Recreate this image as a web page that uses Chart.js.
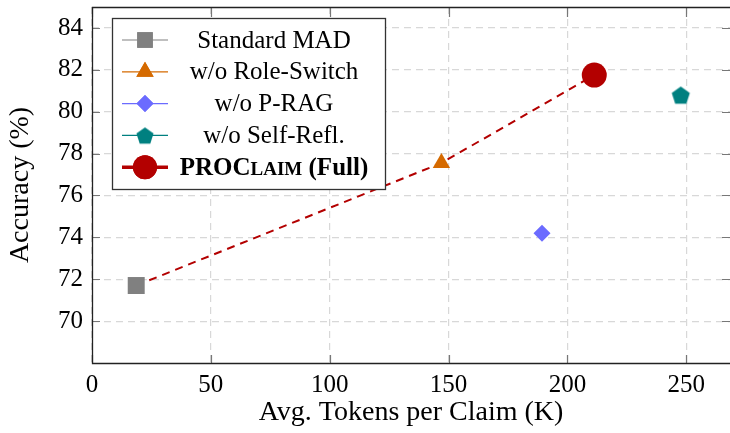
<!DOCTYPE html>
<html lang="en">
<head>
<meta charset="UTF-8">
<title>Accuracy vs Tokens</title>
<script src="https://cdn.jsdelivr.net/npm/chart.js"></script>
<style>
  html, body { margin: 0; padding: 0; background: #fff; }
  #wrap { width: 730px; height: 433px; }
</style>
</head>
<body>
<div id="wrap"><canvas id="chart" width="730" height="433"></canvas></div>
<script>
// data
const methods = ['Standard MAD', 'w/o Role-Switch', 'w/o P-RAG', 'w/o Self-Refl.', 'PROClaim (Full)'];
const tokensK = [18.6, 147.0, 189.3, 247.7, 211.3];
const accuracy = [71.7, 77.55, 74.2, 80.8, 81.75];
const frontier = [0, 1, 4]; // indices joined by the dashed line
const xTicks = [0, 50, 100, 150, 200, 250];
const yTicks = [70, 72, 74, 76, 78, 80, 82, 84];

const colors = ['#808080', '#d56a00', '#6b6bff', '#008080', '#b30000'];
const FONT = '"Liberation Serif", "DejaVu Serif", serif';

// pentagon marker (no built-in pointStyle for it)
function pentagon(r, color) {
  const c = document.createElement('canvas');
  c.width = c.height = Math.ceil(2 * r + 2);
  const g = c.getContext('2d');
  const cx = c.width / 2, cy = c.height / 2 + r * 0.1;
  g.beginPath();
  for (let i = 0; i < 5; i++) {
    const a = -Math.PI / 2 + i * 2 * Math.PI / 5;
    const px = cx + r * Math.cos(a), py = cy + r * Math.sin(a);
    if (i === 0) g.moveTo(px, py); else g.lineTo(px, py);
  }
  g.closePath();
  g.fillStyle = color;
  g.fill();
  return c;
}

const styles = ['rect', 'triangle', 'rectRot', pentagon(9.5, colors[3]), 'circle'];
const radii = [12, 10, 8.5, 9.5, 12.5];
const legStyles = ['rect', 'triangle', 'rectRot', pentagon(9, colors[3]), 'circle'];
const legRadii = [11, 10, 8.5, 9, 12];

const datasets = methods.map((m, i) => ({
  label: m,
  data: [{ x: tokensK[i], y: accuracy[i] }],
  backgroundColor: colors[i],
  borderColor: colors[i],
  pointStyle: styles[i],
  pointRadius: radii[i],
  pointHoverRadius: radii[i],
  borderWidth: 0,
  showLine: false,
  order: 1
}));

datasets.push({
  label: 'frontier',
  data: frontier.map(i => ({ x: tokensK[i], y: accuracy[i] })),
  borderColor: colors[4],
  borderWidth: 2,
  borderDash: [8, 6],
  pointRadius: 0,
  showLine: true,
  fill: false,
  order: 10
});

// frame + inner tick marks
const framePlugin = {
  id: 'frame',
  afterDatasetsDraw(chart) {
    const { ctx, chartArea: a, scales } = chart;
    ctx.save();
    ctx.strokeStyle = '#777';
    ctx.lineWidth = 1.2;
    ctx.beginPath();
    yTicks.forEach(v => {
      const y = Math.round(scales.y.getPixelForValue(v)) + 0.5;
      ctx.moveTo(a.left, y); ctx.lineTo(a.left + 8, y);
      ctx.moveTo(a.right, y); ctx.lineTo(a.right - 8, y);
    });
    xTicks.forEach(v => {
      const x = Math.round(scales.x.getPixelForValue(v)) + 0.5;
      ctx.moveTo(x, a.bottom); ctx.lineTo(x, a.bottom - 8);
      ctx.moveTo(x, a.top); ctx.lineTo(x, a.top + 10);
    });
    ctx.stroke();
    ctx.strokeStyle = '#222';
    ctx.lineWidth = 1.3;
    ctx.beginPath();
    ctx.moveTo(a.right + 2, a.top + 0.5);
    ctx.lineTo(a.left + 0.5, a.top + 0.5);
    ctx.lineTo(a.left + 0.5, a.bottom + 0.5);
    ctx.lineTo(a.right + 2, a.bottom + 0.5);
    ctx.stroke();
    ctx.restore();
  }
};

// legend box drawn inside the plot, pgfplots style
const legendPlugin = {
  id: 'boxLegend',
  afterDraw(chart) {
    const ctx = chart.ctx;
    const bx = 112, by = 18, bw = 273, bh = 171;
    const rowH = 31.8, row0 = 40;
    const mx = 145, tx = 274;
    ctx.save();
    ctx.fillStyle = '#fff';
    ctx.fillRect(bx, by, bw, bh);
    ctx.strokeStyle = '#333';
    ctx.lineWidth = 1.3;
    ctx.strokeRect(bx + 0.5, by + 0.5, bw, bh);
    methods.forEach((m, i) => {
      const y = row0 + i * rowH;
      ctx.strokeStyle = colors[i];
      ctx.lineWidth = i === 4 ? 3.5 : 1.2;
      ctx.beginPath();
      ctx.moveTo(122, y); ctx.lineTo(168, y);
      ctx.stroke();
      ctx.fillStyle = colors[i];
      Chart.helpers.drawPoint(ctx, { pointStyle: legStyles[i], radius: legRadii[i], borderWidth: 0 }, mx, y);
      ctx.fill();
      ctx.fillStyle = '#000';
      ctx.textBaseline = 'middle';
      if (i < 4) {
        ctx.font = '25px ' + FONT;
        ctx.textAlign = 'center';
        ctx.fillText(m, tx, y + 1);
      } else {
        // small caps "PROCLAIM (Full)"
        const parts = [['PROC', 25], ['LAIM', 19], [' (Full)', 25]];
        let w = 0;
        parts.forEach(p => { ctx.font = 'bold ' + p[1] + 'px ' + FONT; w += ctx.measureText(p[0]).width; });
        let x = tx - w / 2;
        ctx.textAlign = 'left';
        ctx.textBaseline = 'alphabetic';
        parts.forEach(p => {
          ctx.font = 'bold ' + p[1] + 'px ' + FONT;
          ctx.fillText(p[0], x, y + 8);
          x += ctx.measureText(p[0]).width;
        });
      }
    });
    ctx.restore();
  }
};

new Chart(document.getElementById('chart'), {
  type: 'scatter',
  data: { datasets },
  options: {
    responsive: false,
    animation: false,
    layout: { autoPadding: false, padding: { top: 7, right: 0, left: 0, bottom: 0 } },
    plugins: { legend: { display: false }, tooltip: { enabled: false } },
    scales: {
      x: {
        type: 'linear', min: 0, max: 268.4,
        afterBuildTicks: s => { s.ticks = xTicks.map(v => ({ value: v })); },
        afterFit: s => { s.height = 70; s.paddingLeft = 0; s.paddingRight = 0; },
        grid: { color: '#d8d8d8', lineWidth: 1.2, drawTicks: false },
        border: { display: false, dash: [7, 5] },
        ticks: { color: '#000', padding: 7, font: { family: FONT, size: 25 } },
        title: { display: true, text: 'Avg. Tokens per Claim (K)', color: '#000', padding: { top: 2 }, font: { family: FONT, size: 28 } }
      },
      y: {
        type: 'linear', min: 68, max: 85,
        afterBuildTicks: s => { s.ticks = yTicks.map(v => ({ value: v })); },
        afterFit: s => { s.width = 92; s.paddingTop = 0; s.paddingBottom = 0; },
        grid: { color: '#d8d8d8', lineWidth: 1.2, drawTicks: false },
        border: { display: false, dash: [7, 5] },
        ticks: { color: '#000', padding: 9, font: { family: FONT, size: 25 } },
        title: { display: true, text: 'Accuracy (%)', color: '#000', padding: { bottom: 0 }, font: { family: FONT, size: 28 } }
      }
    }
  },
  plugins: [framePlugin, legendPlugin]
});
</script>
</body>
</html>
